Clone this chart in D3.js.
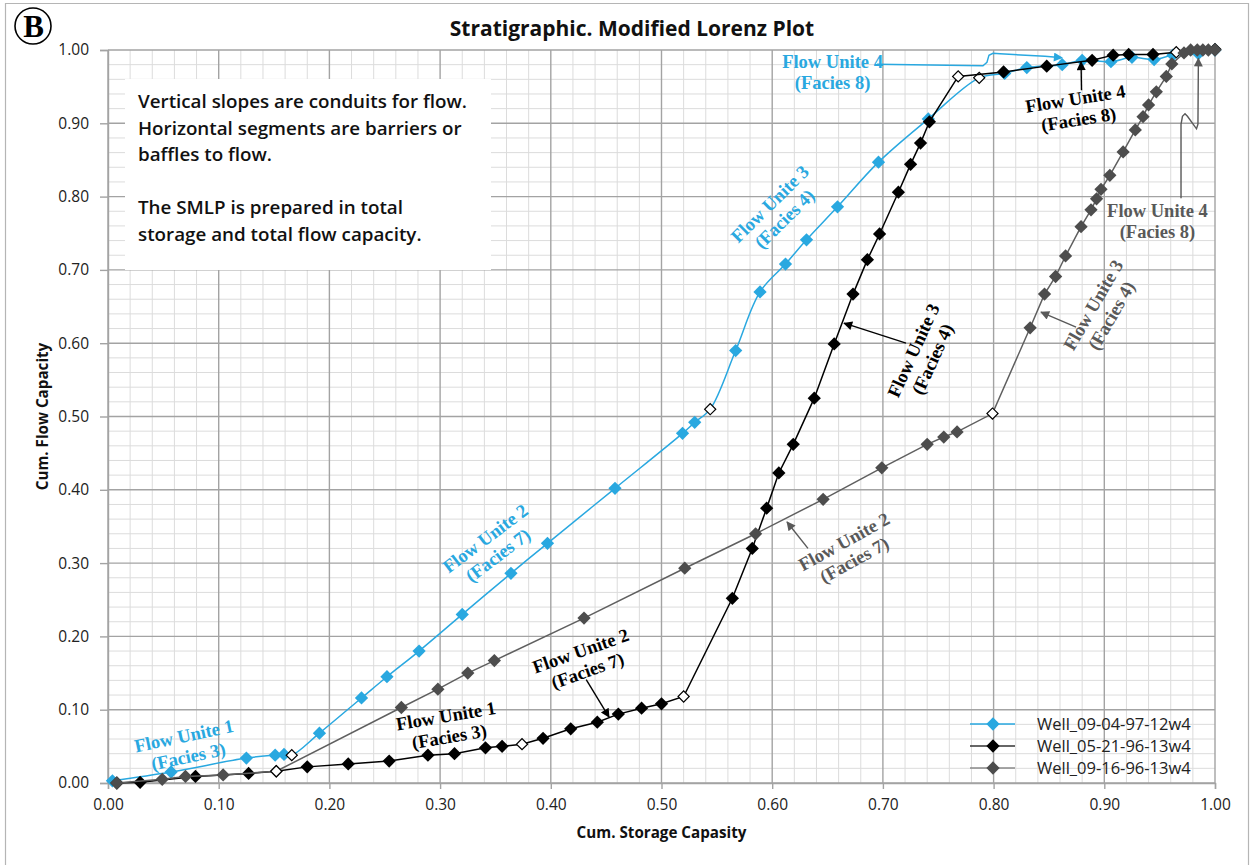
<!DOCTYPE html>
<html>
<head>
<meta charset="utf-8">
<script src="https://cdn.jsdelivr.net/npm/d3@7"></script>
<style>
  html, body { margin: 0; padding: 0; background: #fff; }
  svg { display: block; }
</style>
</head>
<body>
<svg id="chart" width="1252" height="865"></svg>
<script>
// Stratigraphic Modified Lorenz Plot: cumulative storage capacity (x)
// against cumulative flow capacity (y) for three wells.
// A third element of 1 marks a flow-unit boundary (hollow diamond).

const wellBlue = [
  [0.004, 0.003], [0.057, 0.015], [0.125, 0.034], [0.151, 0.038], [0.159, 0.039],
  [0.166, 0.038, 1], [0.191, 0.068], [0.229, 0.116], [0.252, 0.145], [0.281, 0.180],
  [0.320, 0.230], [0.364, 0.286], [0.397, 0.327], [0.458, 0.402], [0.519, 0.477],
  [0.530, 0.492], [0.544, 0.510, 1], [0.567, 0.590], [0.589, 0.670], [0.612, 0.708],
  [0.631, 0.741], [0.659, 0.786], [0.696, 0.847], [0.741, 0.906], [0.787, 0.962, 1],
  [0.810, 0.968], [0.830, 0.976], [0.862, 0.980], [0.880, 0.986], [0.906, 0.984],
  [0.925, 0.990], [0.945, 0.987], [0.962, 0.993], [0.985, 0.995], [1.000, 1.000]
];

const wellBlack = [
  [0.008, 0.000], [0.029, 0.001], [0.079, 0.009], [0.127, 0.013], [0.152, 0.016, 1],
  [0.180, 0.022], [0.217, 0.026], [0.254, 0.030], [0.289, 0.038], [0.313, 0.040],
  [0.341, 0.048], [0.356, 0.050], [0.374, 0.053, 1], [0.393, 0.061], [0.418, 0.074],
  [0.442, 0.083], [0.461, 0.094], [0.482, 0.102], [0.500, 0.108], [0.520, 0.118, 1],
  [0.564, 0.252], [0.582, 0.320], [0.595, 0.375], [0.606, 0.423], [0.619, 0.462],
  [0.638, 0.525], [0.656, 0.599], [0.673, 0.667], [0.686, 0.714], [0.697, 0.749],
  [0.714, 0.806], [0.725, 0.844], [0.734, 0.873], [0.742, 0.902], [0.768, 0.964, 1],
  [0.809, 0.970], [0.848, 0.978], [0.889, 0.986], [0.908, 0.993], [0.922, 0.994],
  [0.944, 0.994], [0.965, 0.997, 1], [1.000, 1.001]
];

const wellGray = [
  [0.008, 0.000], [0.049, 0.005], [0.070, 0.009], [0.104, 0.011], [0.152, 0.016, 1],
  [0.265, 0.103], [0.298, 0.128], [0.325, 0.150], [0.349, 0.167], [0.430, 0.225],
  [0.521, 0.293], [0.585, 0.340], [0.646, 0.387], [0.699, 0.430], [0.740, 0.462],
  [0.755, 0.472], [0.767, 0.479], [0.799, 0.504, 1], [0.833, 0.621], [0.846, 0.667],
  [0.856, 0.691], [0.865, 0.719], [0.879, 0.759], [0.888, 0.782], [0.893, 0.797],
  [0.897, 0.810], [0.905, 0.829], [0.917, 0.861], [0.928, 0.891], [0.935, 0.909],
  [0.940, 0.925], [0.947, 0.943], [0.956, 0.964], [0.961, 0.981], [0.972, 0.996],
  [0.978, 1.000], [0.984, 1.000], [0.989, 1.000], [0.994, 1.000], [1.000, 1.000]
];

const seriesNames = ["Well_09-04-97-12w4", "Well_05-21-96-13w4", "Well_09-16-96-13w4"];
const seriesColors = ["#29a8e0", "#000000", "#4d4d4d"];
const lineColors = ["#29a8e0", "#000000", "#5f5f5f"];

const xTickValues = [0, 0.1, 0.2, 0.3, 0.4, 0.5, 0.6, 0.7, 0.8, 0.9, 1.0];
const yTickValues = [0, 0.1, 0.2, 0.3, 0.4, 0.5, 0.6, 0.7, 0.8, 0.9, 1.0];

const chartTitle = "Stratigraphic. Modified Lorenz Plot";
const xAxisTitle = "Cum. Storage Capasity";
const yAxisTitle = "Cum. Flow Capacity";
const noteLines = [
  "Vertical slopes are conduits for flow.",
  "Horizontal segments are barriers or",
  "baffles to flow.",
  "",
  "The SMLP is prepared in total",
  "storage and total flow capacity."
];

// Flow-unit callouts: block centre in data units, rotation in degrees.
const BLUE = "#29a8e0", DARK = "#000000", GREY = "#595959";
const unitLabels = [
  { lines: ["Flow Unite 1", "(Facies 3)"], x: 0.0705, y: 0.0505, angle: -12, color: BLUE },
  { lines: ["Flow Unite 2", "(Facies 7)"], x: 0.3464, y: 0.3225, angle: -37, color: BLUE },
  { lines: ["Flow Unite 3", "(Facies 4)"], x: 0.6043, y: 0.780, angle: -44.5, color: BLUE },
  { lines: ["Flow Unite 4", "(Facies 8)"], x: 0.6545, y: 0.970, angle: 0, color: BLUE },
  { lines: ["Flow Unite 1", "(Facies 3)"], x: 0.3067, y: 0.0777, angle: -9.5, color: DARK },
  { lines: ["Flow Unite 2", "(Facies 7)"], x: 0.4300, y: 0.167, angle: -19.5, color: DARK },
  { lines: ["Flow Unite 3", "(Facies 4)"], x: 0.7360, y: 0.5843, angle: -65.5, color: DARK },
  { lines: ["Flow Unite 4", "(Facies 8)"], x: 0.8753, y: 0.9198, angle: -9, color: DARK },
  { lines: ["Flow Unite 2", "(Facies 7)"], x: 0.6694, y: 0.317, angle: -29, color: GREY },
  { lines: ["Flow Unite 3", "(Facies 4)"], x: 0.8980, y: 0.645, angle: -60, color: GREY },
  { lines: ["Flow Unite 4", "(Facies 8)"], x: 0.9480, y: 0.7664, angle: 0, color: GREY }
];

// Leader lines ending in an arrowhead (data units).
const leaders = [
  { pts: [[0.432, 0.141], [0.4526, 0.090]], color: DARK },
  { pts: [[0.7209, 0.600], [0.6649, 0.6273]], color: DARK },
  { pts: [[0.8794, 0.945], [0.8790, 0.9836]], color: DARK },
  { pts: [[0.6323, 0.320], [0.6134, 0.356]], color: GREY },
  { pts: [[0.8745, 0.6218], [0.8428, 0.6423]], color: GREY },
  { pts: [[0.9693, 0.7978], [0.9693, 0.8987], [0.9706, 0.9096], [0.9729, 0.9130],
          [0.9751, 0.9096], [0.9833, 0.8925], [0.9846, 0.8987], [0.9850, 0.9887]], color: GREY },
  { pts: [[0.6947, 0.9805], [0.7904, 0.9785], [0.7940, 0.9832], [0.7958, 0.9928],
          [0.7995, 0.9955], [0.8058, 0.9948], [0.8464, 0.9914], [0.8618, 0.9894]], color: BLUE }
];

// ---------------------------------------------------------------------------
const svg = d3.select("#chart");
const W = 1252, H = 865;
const plot = { left: 108, top: 50, right: 1215, bottom: 783 };

const x = d3.scaleLinear().domain([0, 1]).range([plot.left, plot.right]);
const y = d3.scaleLinear().domain([0, 1]).range([plot.bottom, plot.top]);

const SANS = "'Open Sans', 'Noto Sans', sans-serif";
const SERIF = "'Liberation Serif', 'DejaVu Serif', serif";

// outer frame
svg.append("rect").attr("x", 0).attr("y", 0).attr("width", W).attr("height", H).attr("fill", "#fff");
svg.append("path")
  .attr("d", `M5.5,${H} L5.5,3.5 L${W - 3.5},3.5 L${W - 3.5},${H}`)
  .attr("fill", "none").attr("stroke", "#b5b5b5").attr("stroke-width", 1.2);

// panel letter
svg.append("circle").attr("cx", 33).attr("cy", 26).attr("r", 18)
  .attr("fill", "none").attr("stroke", "#000").attr("stroke-width", 1.6);
svg.append("text").attr("x", 33.5).attr("y", 37).attr("text-anchor", "middle")
  .attr("font-family", SERIF).attr("font-weight", "bold").attr("font-size", 31)
  .text("B");

// title
svg.append("text").attr("x", 632).attr("y", 36).attr("text-anchor", "middle")
  .attr("font-family", SANS).attr("font-weight", 700).attr("font-size", 21)
  .attr("fill", "#111").text(chartTitle);

// grid
const minor = d3.range(0, 1.0001, 0.02).filter(v => Math.abs(v * 10 - Math.round(v * 10)) > 1e-6);
const grid = svg.append("g");
grid.selectAll(".vmin").data(minor).join("line")
  .attr("x1", d => x(d)).attr("x2", d => x(d)).attr("y1", plot.top).attr("y2", plot.bottom)
  .attr("stroke", "#dcdcdc").attr("stroke-width", 1);
grid.selectAll(".hmin").data(minor).join("line")
  .attr("y1", d => y(d)).attr("y2", d => y(d)).attr("x1", plot.left).attr("x2", plot.right)
  .attr("stroke", "#dcdcdc").attr("stroke-width", 1);
grid.selectAll(".vmaj").data(xTickValues).join("line")
  .attr("x1", d => x(d)).attr("x2", d => x(d)).attr("y1", plot.top).attr("y2", plot.bottom)
  .attr("stroke", "#a3a3a3").attr("stroke-width", 1.4);
grid.selectAll(".hmaj").data(yTickValues).join("line")
  .attr("y1", d => y(d)).attr("y2", d => y(d)).attr("x1", plot.left).attr("x2", plot.right)
  .attr("stroke", "#a3a3a3").attr("stroke-width", 1.4);

// axes
const fmt = d3.format(".2f");
const xAxis = svg.append("g").attr("transform", `translate(0,${plot.bottom})`)
  .call(d3.axisBottom(x).tickValues(xTickValues).tickFormat(fmt).tickSize(6).tickPadding(10));
const yAxis = svg.append("g").attr("transform", `translate(${plot.left},0)`)
  .call(d3.axisLeft(y).tickValues(yTickValues).tickFormat(fmt).tickSize(8).tickPadding(11));
[xAxis, yAxis].forEach(a => {
  a.select(".domain").attr("stroke", "#a3a3a3").attr("stroke-width", 1.4);
  a.selectAll(".tick line").attr("stroke", "#a3a3a3").attr("stroke-width", 1.4);
  a.selectAll(".tick text").attr("font-family", SANS).attr("font-size", 15.5).attr("fill", "#222");
});

// axis titles
svg.append("text").attr("x", x(0.5)).attr("y", 838).attr("text-anchor", "middle")
  .attr("font-family", SANS).attr("font-weight", 700).attr("font-size", 15.2)
  .attr("fill", "#111").text(xAxisTitle);
svg.append("text").attr("transform", `translate(48,${y(0.5)}) rotate(-90)`)
  .attr("text-anchor", "middle")
  .attr("font-family", SANS).attr("font-weight", 700).attr("font-size", 15.2)
  .attr("fill", "#111").text(yAxisTitle);

// explanatory note on a white panel
svg.append("rect").attr("x", 125).attr("y", 79).attr("width", 366).attr("height", 191).attr("fill", "#fff");
svg.append("g").selectAll("text").data(noteLines).join("text")
  .attr("x", 138).attr("y", (d, i) => 108 + i * 26.5)
  .attr("font-family", SANS).attr("font-weight", 600).attr("font-size", 18.8)
  .attr("fill", "#111").text(d => d);

// series
const diamond = d3.symbol(d3.symbolSquare, 88);
const hollow = d3.symbol(d3.symbolSquare, 62);
const wells = [wellBlue, wellBlack, wellGray];
const curves = [d3.curveCatmullRom.alpha(0.5), d3.curveLinear, d3.curveLinear];

wells.forEach((data, i) => {
  const g = svg.append("g");
  g.append("path").datum(data)
    .attr("d", d3.line().x(d => x(d[0])).y(d => y(d[1])).curve(curves[i]))
    .attr("fill", "none").attr("stroke", lineColors[i]).attr("stroke-width", 1.5);
  g.selectAll("path.pt").data(data).join("path").attr("class", "pt")
    .attr("transform", d => `translate(${x(d[0])},${y(d[1])}) rotate(45)`)
    .attr("d", d => d[2] ? hollow() : diamond())
    .attr("fill", d => d[2] ? "#fff" : seriesColors[i])
    .attr("stroke", d => d[2] ? "#000" : "none")
    .attr("stroke-width", 1.2);
});

// arrowheads
const defs = svg.append("defs");
[DARK, GREY, BLUE].forEach((c, i) => {
  defs.append("marker").attr("id", "arrow" + i)
    .attr("viewBox", "0 0 10 10").attr("refX", 9).attr("refY", 5)
    .attr("markerWidth", 12).attr("markerHeight", 9).attr("markerUnits", "userSpaceOnUse")
    .attr("orient", "auto")
    .append("path").attr("d", "M0,0 L10,5 L0,10 Z").attr("fill", c);
});
const markerFor = c => c === DARK ? "url(#arrow0)" : c === GREY ? "url(#arrow1)" : "url(#arrow2)";

svg.append("g").selectAll("path").data(leaders).join("path")
  .attr("d", d => d3.line().x(p => x(p[0])).y(p => y(p[1]))(d.pts))
  .attr("fill", "none").attr("stroke", d => d.color).attr("stroke-width", 1.4)
  .attr("marker-end", d => markerFor(d.color));

// flow-unit labels
const lbl = svg.append("g").selectAll("g").data(unitLabels).join("g")
  .attr("transform", d => `translate(${x(d.x)},${y(d.y)}) rotate(${d.angle})`);
lbl.selectAll("text").data(d => d.lines.map((t, k) => ({ t, k, color: d.color }))).join("text")
  .attr("x", 0).attr("y", d => (d.k === 0 ? -4 : 17))
  .attr("text-anchor", "middle")
  .attr("font-family", SERIF).attr("font-weight", "bold").attr("font-size", 18.5)
  .attr("fill", d => d.color).text(d => d.t);

// legend
const legend = svg.append("g").attr("transform", "translate(970,724)");
seriesNames.forEach((name, i) => {
  const row = legend.append("g").attr("transform", `translate(0,${i * 22})`);
  row.append("line").attr("x1", 0).attr("x2", 45).attr("y1", 0).attr("y2", 0)
    .attr("stroke", i === 2 ? "#8a8a8a" : (i === 1 ? "#333" : BLUE)).attr("stroke-width", 1.5);
  row.append("path").attr("transform", "translate(23,0) rotate(45)").attr("d", diamond())
    .attr("fill", seriesColors[i]);
  row.append("text").attr("x", 67).attr("y", 6)
    .attr("font-family", SANS).attr("font-size", 16.5).attr("fill", "#222").text(name);
});
</script>
</body>
</html>
